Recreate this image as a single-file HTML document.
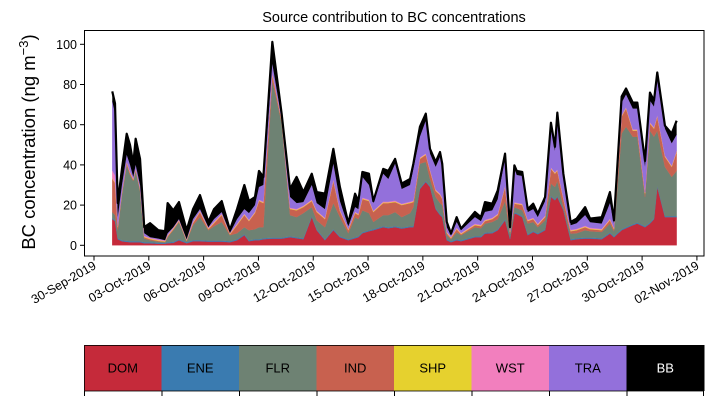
<!DOCTYPE html>
<html><head><meta charset="utf-8"><style>
body{margin:0;background:#fff;}
svg{display:block;font-family:"Liberation Sans","DejaVu Sans",sans-serif;}
</style></head><body>
<svg id="chart" width="714" height="402" viewBox="0 0 714 402">
<text x="394" y="22" text-anchor="middle" font-size="14.5">Source contribution to BC concentrations</text>
<text transform="translate(35,142) rotate(-90)" text-anchor="middle" font-size="18.5">BC concentration (ng m<tspan dy="-7" font-size="13">−3</tspan><tspan dy="7">)</tspan></text>
<g id="areas"></g>
<g id="axes"></g>
<g id="legend"></g>
</svg>
<script>
const days=[1.00,1.15,1.30,1.53,1.79,1.97,2.15,2.28,2.52,2.75,3.07,3.52,3.89,4.03,4.34,4.65,5.07,5.42,5.80,6.26,6.57,6.99,7.44,7.83,8.23,8.48,8.81,9.03,9.27,9.76,10.27,10.73,11.09,11.46,11.92,12.19,12.64,13.10,13.46,13.92,14.29,14.47,14.69,15.05,15.29,15.83,16.11,16.48,16.84,17.30,17.48,17.84,18.16,18.39,18.70,18.94,19.06,19.31,19.54,19.85,20.09,20.85,21.18,21.40,21.80,22.10,22.50,22.77,23.01,23.14,23.44,23.74,24.04,24.29,24.69,25.01,25.23,25.36,25.69,26.09,26.42,26.88,27.15,27.79,28.24,28.46,28.88,29.12,29.49,29.74,30.16,30.43,30.65,30.83,31.25,31.62,31.89];
const DOM=[13,12,3,2,1.7,1.5,1.5,1.5,1.5,1,1,.8,.8,1,1.2,2.5,1,2,2,1.8,1.8,1.8,1.5,2.5,5,2,2.5,2.5,3,3.3,3.3,4,3.5,3,14,7.5,2.5,7.5,4,2.5,3.5,4,6,7,7.5,9,8.5,9,8.3,9,9,28,31.5,29,18,15,14,2.5,1.5,2.5,2,4,4,5.8,6,7.5,12.4,3,15.8,15.5,14,5,6.6,5.5,7.5,24,22.4,24,17.4,2.5,3,3.3,3.3,3,5.8,4,7.5,8.5,10,10.8,9,10.8,13,29,14,14,14];
const ENE=[.5,.5,.5,.5,.5,.5,.5,.5,.5,.5,.5,.5,.5,.5,.5,.5,.5,.5,.5,.5,.5,.5,.5,.5,.5,.5,.5,.5,.5,.5,.5,.5,.5,.5,.5,.5,.5,.5,.5,.5,.5,.5,.5,.5,.5,.5,.5,.5,.5,.5,.5,.5,.5,.5,.5,.5,.5,.5,.5,.5,.5,.5,.5,.5,.5,.5,.5,.5,.5,.5,.5,.5,.5,.5,.5,.5,.5,.5,.5,.5,.5,.5,.5,.5,.5,.5,.5,.5,.5,.5,.5,.5,.5,.5,.5,.5,.5];
const FLR=[3,2.5,4,22.5,37.8,33,30,35,25,1.8,1,.5,.2,2.5,5.8,8.6,.5,7.5,11.5,5.2,7.2,9.3,3,3,3.5,5,5,6,5.5,78.2,57.2,10.5,10,12.5,4.5,4.4,6,13,9.5,3,10,8.5,10.9,8.5,3.6,5.5,6,7,5.2,6.5,9.5,12.1,9.5,3.5,5.5,5.5,5.5,2,1,3.5,2.5,4.5,4,4.5,5.1,5,9.1,2,2.7,2.5,2.9,5.3,4.5,3,4.4,6.2,6.1,7.5,1.1,2.8,2.5,3.7,3.2,3.1,4.5,2.5,47.6,50,43.5,42.7,14.5,45.7,40.5,27.5,24.5,19.5,22.5];
const IND=[16.5,16,1.5,1,1,1,.5,.5,1,.7,.5,.4,.3,.5,.5,.4,.3,1,2.5,.5,1.5,3.4,.4,4,6,4.5,8,13,12,3,1,3,3.4,3,3,4.1,4,11,3,1.5,2,2,5.6,6,4.9,6,6,5,6,5,2.5,2.4,3.5,4,3,4,3,1,.5,1.5,.5,1,1,1.2,1.4,2,7,1,1.7,2,2.6,1.2,1.4,1,1.6,7.3,6.6,5,4,1.2,1.5,1.5,1,.9,1.7,1,8.4,9,3,3,1.7,3.5,4,7,5,5,9.4];
const SHP=[.3,.3,.3,.3,.3,.3,.3,.3,.3,.3,.3,.3,.3,.3,.3,.3,.3,.3,.3,.3,.3,.3,.3,.3,.3,.3,.3,.3,.3,.3,.3,.3,.3,.3,.3,.3,.3,.3,.3,.3,.3,.3,.3,.3,.3,.3,.3,.3,.3,.3,.3,.3,.3,.3,.3,.3,.3,.3,.3,.3,.3,.3,.3,.3,.3,.3,.3,.3,.3,.3,.3,.3,.3,.3,.3,.3,.3,.3,.3,.3,.3,.3,.3,.3,.3,.3,.3,.3,.3,.3,.3,.3,.3,.3,.3,.3,.3];
const WST=[4,3.5,.4,.4,.4,.4,.4,.4,.4,.4,.4,.4,.4,.4,.4,.4,.4,.4,.4,.4,.4,.4,.4,.4,.4,.4,.4,.4,.4,.6,.4,.4,.4,.4,.4,.4,.4,.4,.4,.4,.4,.4,.4,.4,.4,.4,.4,.4,.4,.4,.4,.4,.4,.4,.4,.4,.4,.4,.4,.4,.4,.4,.4,.4,.4,.4,.4,.4,.4,.4,.4,.4,.4,.4,.4,.4,.4,.4,.4,.4,.4,.4,.4,.4,.4,.4,.4,.4,.4,.4,.4,.4,.4,.4,.4,.4,.4];
const TRA=[34.3,30.8,4.3,3.3,3.3,3.3,.8,1.8,1.3,1.3,.3,.4,0,.8,.3,.3,0,1.3,.8,.3,1.3,.8,0,2.3,2.3,3.3,3.3,6.3,8.3,4.3,.3,5.3,2.9,1.8,7.3,3.8,4.3,7.9,4.3,1.3,2.3,2.3,10.3,7.3,3.8,13.9,11.3,18.4,7.3,8.3,15.8,10.3,16.3,7.9,11.3,18.3,14.3,2.3,.8,2.9,1.3,3.3,1.8,3.9,3.7,7.3,14.3,.8,16.6,13.8,13.8,3.8,4.3,3.3,7.3,20.3,10.7,26.3,10.3,2.3,2.8,5.3,2.8,2.6,7.8,2.3,6.3,6.3,10.3,10.3,12.6,10.8,10.3,17.3,13.3,11,7.9];
const BB=[5,5,7,8,10.5,10,6.6,13,13,3,7,4.2,4.5,15,8.4,8.5,4.5,5,7,2.6,5,5.5,1.5,5,12,6,4,8,4,11,2.5,4,13,5,5.6,5.5,7.7,7.4,7,1.5,6.7,4,2.5,5.6,1,2.4,4,2.4,2.7,3,2.6,5,3.5,2.4,2.5,2.4,2.6,2.6,.8,2.4,.8,2.6,2,4.9,3.3,4.4,1.6,1,1.8,2,2,1.5,2.7,1.8,2,2,2,2,1.6,1.6,2.3,4,1.8,3.2,5.5,1.4,3,3,3,3,3,4,3,4,1.5,4.9,7];
const seriesNames=["DOM","ENE","FLR","IND","SHP","WST","TRA","BB"];
const colors=["#c52a3a","#3a7bb0","#6e8273","#c8614f","#e6d12e","#f27fbe","#9370db","#000000"];
const yTicks=[0,20,40,60,80,100];
const xTickDays=[0,3,6,9,12,15,18,21,24,27,30,33];
const xTickLabels=["30-Sep-2019","03-Oct-2019","06-Oct-2019","09-Oct-2019","12-Oct-2019","15-Oct-2019","18-Oct-2019","21-Oct-2019","24-Oct-2019","27-Oct-2019","30-Oct-2019","02-Nov-2019"];

const NS="http://www.w3.org/2000/svg";
const xS=d=>94+18.27*d;
const yS=v=>245.3-2.01*v;
function mk(tag,attrs,parent){const e=document.createElementNS(NS,tag);for(const k in attrs)e.setAttribute(k,attrs[k]);parent.appendChild(e);return e;}
const areas=document.getElementById('areas');
const all=[DOM,ENE,FLR,IND,SHP,WST,TRA,BB];
let base=days.map(()=>0);
all.forEach((s,i)=>{
  const top=base.map((b,j)=>b+s[j]);
  let d="M"+days.map((t,j)=>xS(t).toFixed(2)+","+yS(top[j]).toFixed(2)).join("L");
  for(let j=days.length-1;j>=0;j--)d+="L"+xS(days[j]).toFixed(2)+","+yS(base[j]).toFixed(2);
  d+="Z";
  const p=mk('path',{d:d,fill:colors[i],stroke:colors[i],'stroke-width':i===7?0:0.3},areas);
  
  
  base=top;
});
const tl=mk('path',{d:"M"+days.map((t,j)=>xS(t).toFixed(2)+","+yS(base[j]).toFixed(2)).join("L"),fill:"none",stroke:"#000","stroke-width":2.2,"stroke-linejoin":"round"},areas);



const axes=document.getElementById('axes');
const fr=mk('rect',{x:84.5,y:30.5,width:619.5,height:225.5,fill:"none",stroke:"#000","stroke-width":1},axes);


yTicks.forEach(v=>{
  const y=yS(v);
  mk('line',{x1:80,x2:84.5,y1:y,y2:y,stroke:"#000"},axes);
  const t=mk('text',{x:77,y:y+4.5,'text-anchor':'end','font-size':12.5},axes);
  t.textContent=v;
  
  
});
xTickDays.forEach((d,i)=>{
  const x=xS(d);
  mk('line',{x1:x,x2:x,y1:256,y2:260.5,stroke:"#000"},axes);
  const t=mk('text',{transform:`translate(${x+3},${268}) rotate(-30)`,'text-anchor':'end','font-size':12.5},axes);
  t.textContent=xTickLabels[i];
  
  
});

const lg=document.getElementById('legend');
const cw=620/8;
seriesNames.forEach((n,i)=>{
  const x=84+i*cw;
  const r=mk('rect',{x:x,y:345,width:cw+0.5,height:46,fill:colors[i]},lg);
  
  
  const t=mk('text',{x:x+cw/2,y:372.5,'text-anchor':'middle','font-size':13,fill:i===7?'#fff':'#000'},lg);
  t.textContent=n;
  
  
});
for(let i=0;i<=8;i++){mk('line',{x1:84.5+i*cw-(i===8?1:0),x2:84.5+i*cw-(i===8?1:0),y1:391,y2:396,stroke:"#000"},lg);}
mk('rect',{x:84.5,y:345.5,width:619,height:45.5,fill:"none",stroke:"#000","stroke-width":0.8},lg);
</script>
</body></html>
